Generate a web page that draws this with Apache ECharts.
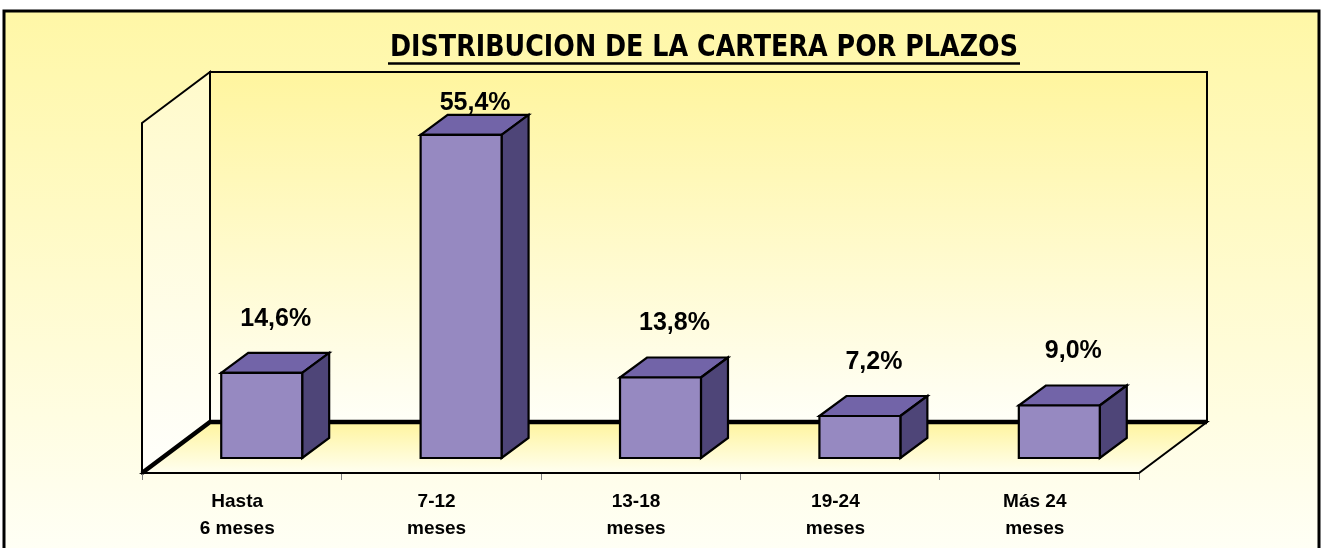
<!DOCTYPE html>
<html>
<head>
<meta charset="utf-8">
<script src="https://cdn.jsdelivr.net/npm/echarts@6/dist/echarts.min.js"></script>
<style>
  html, body { margin: 0; padding: 0; background: #fff; }
  #chart { width: 1323px; height: 548px; }
</style>
</head>
<body>
<div id="chart"></div>
<script>
  // datos
  var categorias = ['Hasta\n6 meses', '7-12\nmeses', '13-18\nmeses', '19-24\nmeses', 'Más 24\nmeses'];
  var porcentajes = [14.6, 55.4, 13.8, 7.2, 9.0];
  var rangoEje = [0, 60];
  var titulo = 'DISTRIBUCION DE LA CARTERA POR PLAZOS';

  // profundidad 3d (px) relativa al plano de las barras
  var fondo = { dx: 48, dy: -36 };
  var frente = { dx: -20, dy: 15 };
  var barra = { dx: 27, dy: -20 };

  var fmt = function (v) {
    return v.toFixed(1).replace('.', ',') + '%';
  };

  // ancho del titulo para comprimirlo como el original
  var ctx = document.createElement('canvas').getContext('2d');
  ctx.font = 'bold 30px "DejaVu Sans"';
  var anchoTitulo = ctx.measureText(titulo).width;
  var escalaTitulo = 628 / anchoTitulo;

  var renderParedes = function (params, api) {
    var cs = params.coordSys;
    var x0 = cs.x, x1 = cs.x + cs.width, y0 = cs.y, y1 = cs.y + cs.height;
    var amarillo = function (a, b) {
      return new echarts.graphic.LinearGradient(0, 0, 0, 1, [
        { offset: 0, color: a },
        { offset: 1, color: b }
      ]);
    };
    return {
      type: 'group',
      children: [
        {
          type: 'rect',
          shape: { x: x0 + fondo.dx, y: y0 + fondo.dy, width: cs.width, height: cs.height },
          style: { fill: amarillo('#FFF59E', '#FFFFF8'), stroke: '#000', lineWidth: 2 }
        },
        {
          type: 'polygon',
          shape: { points: [
            [x0 + frente.dx, y0 + frente.dy], [x0 + fondo.dx, y0 + fondo.dy],
            [x0 + fondo.dx, y1 + fondo.dy], [x0 + frente.dx, y1 + frente.dy]
          ] },
          style: { fill: amarillo('#FFFACA', '#FFFFFC'), stroke: '#000', lineWidth: 2 }
        },
        {
          type: 'polygon',
          shape: { points: [
            [x0 + frente.dx, y1 + frente.dy], [x0 + fondo.dx, y1 + fondo.dy],
            [x1 + fondo.dx, y1 + fondo.dy], [x1 + frente.dx, y1 + frente.dy]
          ] },
          style: { fill: amarillo('#FFF49C', '#FFFFF2'), stroke: '#000', lineWidth: 2 }
        },
        {
          type: 'polyline',
          shape: { points: [
            [x0 + frente.dx, y1 + frente.dy], [x0 + fondo.dx, y1 + fondo.dy],
            [x1 + fondo.dx, y1 + fondo.dy]
          ] },
          style: { fill: null, stroke: '#000', lineWidth: 4.5 }
        }
      ]
    };
  };

  var renderBarras = function (params, api) {
    var i = api.value(0);
    var v = api.value(1);
    var top = api.coord([i, v]);
    var base = api.coord([i, 0]);
    var w = api.size([1, 0])[0] * 0.406;
    var xl = top[0] - w / 2, xr = top[0] + w / 2, yt = top[1], yb = base[1];
    var yLabel = Math.max(yt - 54, params.coordSys.y - 5);
    return {
      type: 'group',
      children: [
        {
          type: 'polygon',
          shape: { points: [[xl, yt], [xl + barra.dx, yt + barra.dy], [xr + barra.dx, yt + barra.dy], [xr, yt]] },
          style: { fill: '#7264A8', stroke: '#000', lineWidth: 2.2 }
        },
        {
          type: 'polygon',
          shape: { points: [[xr, yt], [xr + barra.dx, yt + barra.dy], [xr + barra.dx, yb + barra.dy], [xr, yb]] },
          style: { fill: '#4E4578', stroke: '#000', lineWidth: 2.2 }
        },
        {
          type: 'rect',
          shape: { x: xl, y: yt, width: w, height: yb - yt },
          style: { fill: '#9689C1', stroke: '#000', lineWidth: 2.2 }
        },
        {
          type: 'text',
          x: top[0] + 14,
          y: yLabel,
          style: {
            text: fmt(v),
            fill: '#000',
            font: 'bold 25px "Liberation Sans", Arial',
            align: 'center',
            verticalAlign: 'middle'
          }
        }
      ]
    };
  };

  var option = {
    animation: false,
    graphic: [
      {
        type: 'rect',
        z: -10,
        shape: { x: 4, y: 11, width: 1315, height: 570 },
        style: {
          fill: new echarts.graphic.LinearGradient(0, 0, 0, 1, [
            { offset: 0, color: '#FFF7A6' },
            { offset: 0.95, color: '#FFFFF6' },
            { offset: 1, color: '#FFFFF8' }
          ]),
          stroke: '#000',
          lineWidth: 3
        }
      },
      {
        type: 'text',
        x: 704,
        y: 48,
        scaleX: escalaTitulo,
        style: {
          text: titulo,
          fill: '#000',
          font: 'bold 30px "DejaVu Sans"',
          align: 'center',
          verticalAlign: 'middle'
        }
      },
      {
        type: 'line',
        shape: { x1: 704 - 316, y1: 63.5, x2: 704 + 316, y2: 63.5 },
        style: { stroke: '#000', lineWidth: 2.5 }
      }
    ],
    grid: [
      { left: 162, top: 108, width: 997, height: 350 },
      { left: 142, top: 123, width: 997, height: 350 }
    ],
    xAxis: [
      { type: 'category', gridIndex: 0, data: categorias, show: false },
      {
        type: 'category',
        gridIndex: 1,
        data: categorias,
        axisLine: { show: false },
        axisTick: { show: true, length: 7, lineStyle: { color: '#808080', width: 1 } },
        axisLabel: {
          margin: 15,
          color: '#000',
          fontSize: 19,
          fontWeight: 'bold',
          fontFamily: 'Liberation Sans, Arial',
          lineHeight: 27,
          padding: [0, 9, 0, 0]
        }
      }
    ],
    yAxis: [
      { type: 'value', gridIndex: 0, min: rangoEje[0], max: rangoEje[1], show: false },
      { type: 'value', gridIndex: 1, min: rangoEje[0], max: rangoEje[1], show: false }
    ],
    series: [
      {
        type: 'custom',
        xAxisIndex: 0,
        yAxisIndex: 0,
        z: 1,
        renderItem: renderParedes,
        data: [[0, 0]],
        silent: true
      },
      {
        type: 'custom',
        xAxisIndex: 0,
        yAxisIndex: 0,
        z: 3,
        renderItem: renderBarras,
        data: porcentajes.map(function (v, i) { return [i, v]; })
      }
    ]
  };

  var myChart = echarts.init(document.getElementById('chart'));
  myChart.setOption(option);
</script>
</body>
</html>
